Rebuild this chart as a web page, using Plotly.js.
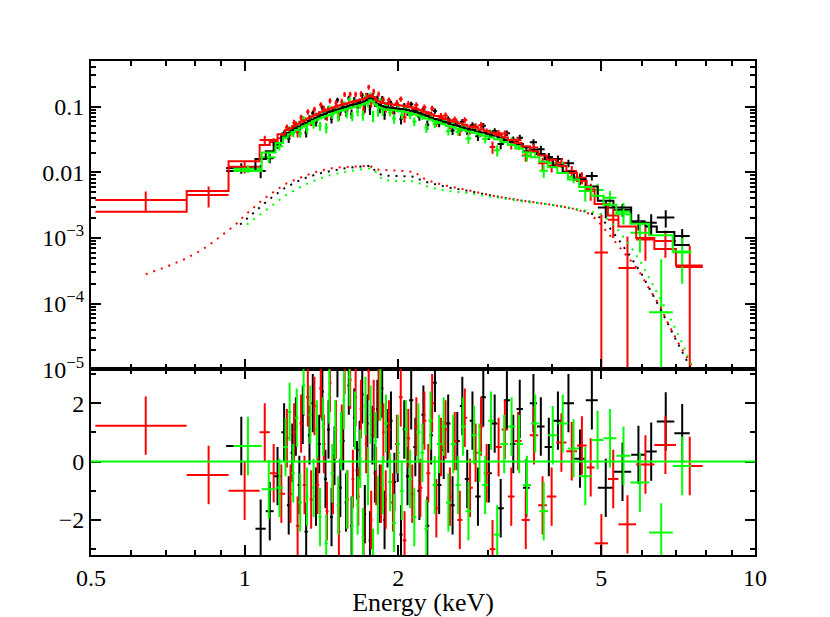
<!DOCTYPE html>
<html><head><meta charset="utf-8">
<script src="https://cdn.plot.ly/plotly-3.0.1.min.js"></script>
<style>html,body{margin:0;padding:0;background:#fff}#chart{width:830px;height:617px}</style>
</head><body><div id="chart"></div>
<script>
// ---------- BLACK dataset (bin edges in keV, counts/s/keV) ----------
const blackEdges = [0.92,1.05,1.10,1.14,1.18,1.21,1.23,1.25,1.27,1.29,1.31,1.33,1.35,1.37,1.39,1.41,1.43,1.45,1.47,1.49,1.51,1.53,1.55,1.57,1.59,1.61,1.63,1.65,1.67,1.69,1.71,1.73,1.75,1.77,1.79,1.81,1.83,1.85,1.87,1.89,1.92,1.95,1.98,2.01,2.04,2.07,2.10,2.14,2.18,2.22,2.26,2.30,2.34,2.38,2.43,2.48,2.53,2.58,2.64,2.70,2.76,2.83,2.90,2.97,3.05,3.13,3.22,3.31,3.41,3.51,3.62,3.74,3.87,4.02,4.20,4.42,4.66,4.92,5.28,5.72,6.10,6.42,6.95,7.45];
const blackModel = [0.0105,0.016,0.021,0.028,0.035,
  0.040,0.043,0.047,0.050,0.054,0.057,0.061,0.064,0.068,0.071,0.075,0.078,0.082,0.085,0.088,0.091,0.094,0.097,0.100,0.103,0.106,0.108,0.111,0.114,0.117,0.121,0.127,0.134,0.130,0.120,0.111,0.106,0.102,0.099,
  0.097,0.096,0.095,0.093,0.092,0.091,0.089,
  0.087,0.084,0.080,0.076,0.072,0.068,0.065,
  0.062,0.059,0.056,0.053,
  0.051,0.048,0.046,
  0.044,0.042,0.040,
  0.038,0.036,0.034,0.031,0.029,0.027,0.024,0.022,0.019,
  0.0158,0.0128,0.0102,0.0078,0.0061,0.0037,0.0029,0.0017,0.0015,0.00123,0.00078];
const blackFlux = [0.0116,0.0105,0.0164,0.0263,0.0392,
  0.0328,0.0445,0.0538,0.0452,0.0644,0.0406,0.0676,0.0794,0.0582,0.0761,0.0966,0.0724,0.0928,0.0656,0.0901,0.126,0.0838,0.105,0.0832,0.135,0.078,0.127,0.107,0.119,0.149,0.095,0.147,0.091,0.144,0.114,0.135,0.092,0.133,0.075,
  0.106,0.112,0.087,0.0963,0.0644,0.103,0.0837,
  0.109,0.089,0.0704,0.0906,0.053,0.0753,0.086,
  0.056,0.0618,0.0647,0.0435,
  0.0553,0.059,0.0427,
  0.052,0.0355,0.0514,
  0.036,0.0421,0.0269,0.0395,0.0313,0.0336,0.0209,0.0286,0.0225,
  0.0171,0.0159,0.0138,0.0080,0.0088,0.0029,0.0027,0.0018,0.0017,0.00205,0.00107];
const blackErr = [0.0021,0.0024,0.0027,0.0034,0.0042,
  0.0048,0.0052,0.0056,0.006,0.0065,0.0068,0.0073,0.0077,0.0082,0.0085,0.009,0.0094,0.0098,0.0102,0.0106,0.0109,0.0113,0.0116,0.012,0.0124,0.0127,0.013,0.0133,0.0137,0.014,0.0145,0.0152,0.0161,0.0156,0.0144,0.0133,0.0127,0.0122,0.0119,
  0.0116,0.0115,0.0114,0.0112,0.011,0.0109,0.0107,
  0.0104,0.0101,0.0096,0.0091,0.0086,0.0082,0.0078,
  0.0074,0.0071,0.0067,0.0064,
  0.0061,0.0058,0.0055,
  0.0057,0.0055,0.0052,
  0.0049,0.0047,0.0044,0.004,0.0038,0.0037,0.0034,0.0033,0.0029,
  0.0026,0.0022,0.0018,0.0016,0.0013,0.0009,0.0006,0.0005,0.0006,0.0006,0.0003];
const blackResid = [0.53,-2.3,-1.7,-0.5,1.0,
  -1.5,0.3,1.2,-0.8,1.6,-2.4,0.9,2.0,-1.2,0.6,2.4,-0.6,1.1,-1.9,0.2,3.2,-0.9,0.7,-1.4,2.6,-2.2,1.5,-0.3,0.4,2.3,-1.8,1.3,-2.7,0.9,-0.4,1.8,-1.1,2.5,-2.0,
  0.8,1.4,-0.7,0.3,-2.5,1.1,-0.5,
  2.1,0.5,-1.0,1.6,-2.2,0.9,2.7,
  -0.8,0.4,1.3,-1.5,
  0.7,1.9,-0.6,
  1.4,-1.2,2.2,
  -0.4,1.3,-1.6,2.1,0.6,1.8,-0.9,2.0,1.2,
  0.5,1.4,2.0,0.1,2.1,-0.9,-0.35,0.23,0.34,1.37,0.97];

// ---------- RED dataset ----------
const redEdges = [0.51,0.77,0.93,1.07,1.12,1.16,1.20,1.22,1.24,1.26,1.28,1.30,1.32,1.34,1.36,1.38,1.40,1.42,1.44,1.46,1.48,1.50,1.52,1.54,1.56,1.58,1.60,1.62,1.64,1.66,1.68,1.70,1.72,1.74,1.76,1.78,1.80,1.82,1.84,1.86,1.88,1.90,1.935,1.97,2.005,2.04,2.075,2.11,2.15,2.19,2.23,2.27,2.31,2.35,2.40,2.45,2.50,2.55,2.61,2.67,2.73,2.80,2.87,2.94,3.02,3.10,3.19,3.28,3.38,3.49,3.62,3.76,3.91,4.08,4.27,4.48,4.68,4.85,5.15,5.40,5.85,6.35,7.00,7.90];
const redModel = [0.0025,0.0052,0.0148,0.026,0.031,0.038,
  0.044,0.047,0.051,0.055,0.059,0.062,0.066,0.070,0.074,0.078,0.082,0.086,0.090,0.093,0.097,0.100,0.104,0.107,0.110,0.113,0.116,0.119,0.122,0.125,0.128,0.132,0.137,0.145,0.150,0.140,0.128,0.121,0.117,0.114,0.112,
  0.110,0.108,0.106,0.104,0.102,0.100,
  0.097,0.093,0.089,0.084,0.080,0.076,
  0.072,0.068,0.065,0.062,
  0.059,0.056,0.053,
  0.050,0.048,0.045,
  0.043,0.040,0.037,0.034,0.031,0.028,0.025,0.021,0.018,
  0.0155,0.0125,0.0098,0.0074,0.0055,0.0033,0.0022,0.0015,0.0010,0.00068,0.00038];
const redFlux = [0.0038,0.0045,0.0122,0.031,0.029,0.033,
  0.0482,0.0408,0.0571,0.0405,0.0682,0.056,0.0834,0.0591,0.0909,0.0705,0.1066,0.0922,0.0716,0.123,0.0877,0.113,0.074,0.119,0.154,0.0954,0.155,0.110,0.154,0.107,0.156,0.0908,0.147,0.199,0.114,0.170,0.120,0.156,0.102,0.128,0.0945,
  0.125,0.0899,0.114,0.131,0.069,0.110,
  0.0842,0.106,0.0794,0.0981,0.0762,0.0942,
  0.0582,0.0721,0.0736,0.0531,
  0.064,0.0426,0.0625,
  0.0442,0.0499,0.052,
  0.0408,0.0244,0.0394,0.0389,0.0262,0.0307,0.018,0.0238,0.0137,
  0.0125,0.014,0.0105,0.0083,0.0052,0.0006,0.0019,0.00035,0.00095,0.0009,0.00036];
const redErr = [0.0013,0.0016,0.0026,0.005,0.004,0.0045,
  0.0053,0.0056,0.0061,0.0066,0.0071,0.0074,0.0079,0.0084,0.0089,0.0094,0.0098,0.0103,0.0108,0.0112,0.0116,0.012,0.0125,0.0128,0.0132,0.0136,0.0139,0.0143,0.0146,0.015,0.0154,0.0158,0.0164,0.0174,0.018,0.0168,0.0154,0.0145,0.014,0.0137,0.0134,
  0.0132,0.013,0.0127,0.0125,0.0122,0.012,
  0.0116,0.0112,0.0107,0.0101,0.0096,0.0091,
  0.0086,0.0082,0.0078,0.0074,
  0.0071,0.0067,0.0064,
  0.0065,0.0062,0.0059,
  0.0056,0.0052,0.0048,0.0044,0.004,0.0039,0.0035,0.0031,0.0029,
  0.0026,0.0023,0.002,0.0017,0.0015,0.0017,0.0009,0.0007,0.0005,0.0004,0.0004];
const redResid = [1.23,-0.46,-1.0,1.0,-0.4,-1.1,
  0.8,-1.1,1.0,-2.2,1.3,-0.8,2.2,-1.3,1.9,-0.8,2.5,0.6,-1.7,2.7,-0.8,1.1,-2.4,0.95,3.3,-1.3,2.8,-0.6,2.2,-1.2,1.8,-2.6,0.6,3.1,-2.0,1.8,-0.5,2.4,-1.1,1.0,-1.3,
  1.1,-1.4,0.6,2.2,-2.7,0.8,
  -1.1,1.2,-0.9,1.4,-0.4,2.0,
  -1.6,0.5,1.1,-1.2,
  0.7,-2.0,1.5,
  -0.9,0.3,1.2,
  -0.4,-3.0,0.5,1.1,-1.2,0.7,-2.0,0.9,-1.5,
  -1.2,0.65,0.35,0.55,-0.2,-2.8,-0.6,-2.15,-0.1,0.57,-0.15];

// ---------- GREEN dataset ----------
const greenEdges = [0.95,1.08,1.15,1.19,1.215,1.235,1.255,1.275,1.295,1.315,1.335,1.355,1.375,1.395,1.415,1.435,1.455,1.475,1.495,1.515,1.535,1.555,1.575,1.595,1.615,1.635,1.655,1.675,1.695,1.715,1.735,1.755,1.775,1.795,1.815,1.835,1.855,1.875,1.91,1.945,1.98,2.015,2.05,2.09,2.13,2.17,2.21,2.25,2.29,2.335,2.38,2.43,2.48,2.535,2.59,2.65,2.71,2.78,2.85,2.92,3.00,3.08,3.17,3.28,3.39,3.51,3.64,3.78,3.93,4.10,4.30,4.52,4.78,5.05,5.35,5.70,6.20,6.90,7.50];
const greenModel = [0.0105,0.020,0.028,0.034,
  0.038,0.041,0.044,0.047,0.050,0.053,0.056,0.060,0.063,0.066,0.069,0.072,0.075,0.078,0.081,0.084,0.087,0.089,0.092,0.095,0.097,0.100,0.102,0.105,0.108,0.112,0.118,0.125,0.120,0.108,0.100,0.096,0.093,
  0.091,0.089,0.088,0.086,0.085,
  0.083,0.080,0.077,0.073,0.069,0.066,
  0.063,0.060,0.057,0.054,
  0.051,0.049,0.046,
  0.044,0.042,0.040,
  0.038,0.036,0.034,0.032,0.029,0.026,0.023,0.020,0.017,
  0.0145,0.012,0.0098,0.0078,0.0060,0.0044,0.0032,0.0023,0.00165,0.0011,0.00062];
const greenFlux = [0.0113,0.017,0.025,0.036,
  0.0458,0.039,0.0519,0.0391,0.0656,0.0454,0.0668,0.0535,0.0713,0.051,0.0789,0.0478,0.0957,0.0743,0.0917,0.0689,0.0943,0.111,0.0776,0.128,0.0714,0.117,0.0836,0.106,0.0743,0.138,0.111,0.149,0.0725,0.117,0.082,0.124,0.0841,
  0.105,0.0815,0.0658,0.0922,0.0748,
  0.094,0.0742,0.0594,0.0818,0.0715,0.0478,
  0.0736,0.0542,0.0611,0.0618,
  0.0424,0.0525,0.0416,
  0.0509,0.0327,0.0447,
  0.0395,0.0323,0.0402,0.0216,0.0313,0.0304,0.0249,0.0176,0.0203,
  0.0106,0.0139,0.0124,0.0086,0.0052,0.0054,0.0041,0.0025,0.0012,0.000074,0.0006];
const greenErr = [0.0015,0.003,0.0035,0.004,
  0.0046,0.0049,0.0053,0.0056,0.006,0.0064,0.0067,0.0072,0.0076,0.0079,0.0083,0.0086,0.009,0.0094,0.0097,0.0101,0.0104,0.0107,0.011,0.0114,0.0116,0.012,0.0122,0.0126,0.013,0.0134,0.0142,0.015,0.0144,0.013,0.012,0.0115,0.0112,
  0.0109,0.0107,0.0106,0.0103,0.0102,
  0.01,0.0096,0.0092,0.0088,0.0083,0.0079,
  0.0076,0.0072,0.0068,0.0065,
  0.0061,0.0059,0.0055,
  0.0057,0.0055,0.0052,
  0.0049,0.0047,0.0044,0.0042,0.0038,0.0036,0.0032,0.003,0.0026,
  0.0023,0.0021,0.002,0.0018,0.0016,0.0013,0.0011,0.0009,0.0006,0.0004,0.0004];
const greenResid = [0.53,-0.95,-0.9,0.5,
  1.7,-0.4,1.5,-1.4,2.6,-1.2,1.6,-0.9,1.1,-1.9,1.2,-2.8,2.3,-0.4,1.1,-1.5,0.7,2.1,-1.3,2.9,-2.2,1.4,-1.5,0.1,-2.6,1.9,-0.5,1.6,-3.3,0.7,-1.5,2.4,-0.8,
  1.3,-0.7,-2.1,0.6,-1.0,
  1.1,-0.6,-1.9,1.0,0.3,-2.3,
  1.4,-0.8,0.6,1.2,
  -1.4,0.6,-0.8,
  1.2,-1.7,0.9,
  0.3,-0.8,1.4,-2.5,0.6,1.2,0.6,-0.8,1.3,
  -1.7,0.9,1.3,0.45,-0.5,0.74,0.8,0.2,-0.72,-2.43,-0.15];

// ---------- model component (dotted) ----------
const redCompE = [0.64,0.70,0.76,0.82,0.87,0.92,0.96,1.00,1.04,1.08,1.12,1.16,1.20,1.25,1.30,1.36,1.42,1.48,1.55,1.62,1.70,1.76,1.80,1.86,1.94,2.02,2.10,2.16,2.20,2.26,2.35,2.50,2.75,3.10,3.50,4.00,4.40,4.70,4.90,5.10,5.30,5.60,5.90,6.20,6.50,6.80,7.10,7.40,7.60];
const redCompY = [2.8e-4,3.6e-4,4.7e-4,6.4e-4,8.8e-4,1.25e-3,1.6e-3,2.2e-3,2.9e-3,3.7e-3,4.6e-3,5.5e-3,6.6e-3,7.6e-3,8.6e-3,9.8e-3,0.0108,0.0115,0.0120,0.0123,0.0125,0.0126,0.0111,0.0108,0.0107,0.0106,0.0104,0.0101,0.0088,0.0078,0.0070,0.0062,0.0053,0.0043,0.0037,0.0032,0.0028,0.0024,0.0019,0.0013,0.00092,0.00055,0.00033,0.00017,9.5e-5,4.5e-5,2.4e-5,1.4e-5,1.0e-5];
const blackCompE = [0.98,1.02,1.06,1.10,1.15,1.20,1.26,1.32,1.40,1.48,1.56,1.64,1.72,1.77,1.80,1.86,1.94,2.02,2.10,2.16,2.20,2.26,2.35,2.50,2.75,3.10,3.50,4.00,4.40,4.70,5.00,5.20,5.40,5.70,6.00,6.30,6.60,6.90,7.20,7.50];
const blackCompY = [0.0016,0.0021,0.0028,0.0035,0.0046,0.0058,0.0071,0.0083,0.0096,0.0106,0.0114,0.0120,0.0124,0.0126,0.0106,0.0090,0.0088,0.0088,0.0087,0.0085,0.0078,0.0072,0.0066,0.0059,0.0052,0.0043,0.0037,0.0032,0.0028,0.0025,0.0020,0.0014,0.00095,0.00052,0.00028,0.00014,7e-5,3.5e-5,1.8e-5,1.0e-5];
const greenCompE = [1.01,1.05,1.10,1.15,1.20,1.26,1.32,1.40,1.48,1.56,1.64,1.72,1.77,1.81,1.86,1.94,2.02,2.10,2.16,2.20,2.26,2.35,2.50,2.75,3.10,3.50,4.00,4.40,4.70,5.00,5.20,5.40,5.70,6.00,6.30,6.60,6.90,7.20,7.50];
const greenCompY = [0.0016,0.0020,0.0026,0.0034,0.0044,0.0055,0.0066,0.0080,0.0092,0.0101,0.0108,0.0113,0.0115,0.0100,0.0078,0.0074,0.0074,0.0074,0.0073,0.0068,0.0062,0.0057,0.0052,0.0048,0.0042,0.0036,0.0032,0.0028,0.0026,0.0023,0.0018,0.0013,0.00075,0.00040,0.00020,0.0001,5e-5,2.5e-5,1.2e-5];

// ---------- ticks ----------
const xTickVals = [0.5,1,2,5,10];
const xTickText = ['0.5','1','2','5','10'];
const xMinorVals = [0.6,0.7,0.8,0.9,3,4,6,7,8,9];
const yTickVals = [1e-5,1e-4,1e-3,0.01,0.1];
const yTickText = ['10<sup>\u22125</sup>','10<sup>\u22124</sup>','10<sup>\u22123</sup>','0.01','0.1'];
const rTickVals = [-2,0,2];
const rTickText = ['\u22122','0','2'];
const rMinorVals = [-3,-1,1,3];

const BLACK = '#000000', RED = '#ff0000', GREEN = '#00ff00';

const yMinorVals = [];
for (let k = -5; k <= -1; k++) for (let m = 2; m <= 9; m++) yMinorVals.push(m * Math.pow(10, k));

function bins(edges) {
  const lo = edges.slice(0, -1), hi = edges.slice(1);
  const c = lo.map((l, i) => (l + hi[i]) / 2);
  return {lo, hi, c};
}
function xErr(b, color) {
  return {type:'data', symmetric:false, array:b.c.map((v,i)=>b.hi[i]-v), arrayminus:b.c.map((v,i)=>v-b.lo[i]), width:0, thickness:2, color:color};
}
function dataTrace(edges, flux, err, color) {
  const b = bins(edges);
  return {type:'scatter', mode:'markers', x:b.c, y:flux, xaxis:'x', yaxis:'y',
    marker:{size:1, color:color}, error_x:xErr(b, color),
    error_y:{type:'data', array:err, width:0, thickness:2, color:color}, hoverinfo:'skip'};
}
function modelTrace(edges, model, color) {
  return {type:'scatter', mode:'lines', x:edges, y:model.concat([model[model.length-1]]),
    xaxis:'x', yaxis:'y', line:{shape:'hv', color:color, width:2}, hoverinfo:'skip'};
}
function compTrace(e, y, color) {
  return {type:'scatter', mode:'lines', x:e, y:y, xaxis:'x', yaxis:'y',
    line:{color:color, width:2, dash:'2px,6px'}, hoverinfo:'skip'};
}
function residTrace(edges, resid, color) {
  const b = bins(edges);
  return {type:'scatter', mode:'markers', x:b.c, y:resid, xaxis:'x2', yaxis:'y2',
    marker:{size:1, color:color}, error_x:xErr(b, color),
    error_y:{type:'constant', value:1, width:0, thickness:2, color:color}, hoverinfo:'skip'};
}

const traces = [
  dataTrace(blackEdges, blackFlux, blackErr, BLACK),
  dataTrace(redEdges, redFlux, redErr, RED),
  dataTrace(greenEdges, greenFlux, greenErr, GREEN),
  modelTrace(blackEdges, blackModel, BLACK),
  modelTrace(redEdges, redModel, RED),
  modelTrace(greenEdges, greenModel, GREEN),
  compTrace(blackCompE, blackCompY, BLACK),
  compTrace(redCompE, redCompY, RED),
  compTrace(greenCompE, greenCompY, GREEN),
  residTrace(blackEdges, blackResid, BLACK),
  residTrace(redEdges, redResid, RED),
  residTrace(greenEdges, greenResid, GREEN)
];

const SPLIT = 0.376;
const common = {showline:true, linewidth:2, linecolor:'#000', mirror:'allticks', ticks:'inside',
  ticklen:10, tickwidth:2, tickcolor:'#000', showgrid:false, zeroline:false};
const xMinor = {tickmode:'array', tickvals:xMinorVals, ticks:'inside', ticklen:5, tickwidth:2, tickcolor:'#000', showgrid:false};

const layout = {
  width:830, height:617,
  margin:{l:91, r:75, t:61, b:62},
  paper_bgcolor:'#fff', plot_bgcolor:'#fff',
  showlegend:false, hovermode:false,
  font:{family:'Liberation Serif, Times New Roman, serif', size:25, color:'#000'},
  xaxis:Object.assign({}, common, {type:'log', range:[Math.log10(0.5), 1], domain:[0,1], anchor:'y',
    tickmode:'array', tickvals:xTickVals, showticklabels:false, minor:xMinor}),
  xaxis2:Object.assign({}, common, {type:'log', range:[Math.log10(0.5), 1], domain:[0,1], anchor:'y2', matches:'x',
    tickmode:'array', tickvals:xTickVals, ticktext:xTickText, showticklabels:true, minor:xMinor,
    tickfont:{size:24},
    title:{text:'Energy (keV)', font:{size:26}, standoff:10}}),
  yaxis:Object.assign({}, common, {type:'log', range:[-5, -0.304], domain:[SPLIT,1], anchor:'x',
    tickmode:'array', tickvals:yTickVals, ticktext:yTickText, tickfont:{size:24},
    minor:{tickmode:'array', tickvals:yMinorVals, ticks:'inside', ticklen:5, tickwidth:2, tickcolor:'#000', showgrid:false}}),
  yaxis2:Object.assign({}, common, {range:[-3.2, 3.16], domain:[0,SPLIT], anchor:'x2',
    tickmode:'array', tickvals:rTickVals, ticktext:rTickText, tickfont:{size:24},
    minor:{tickmode:'array', tickvals:rMinorVals, ticks:'inside', ticklen:5, tickwidth:2, tickcolor:'#000', showgrid:false}}),
  shapes:[{type:'line', xref:'paper', x0:0, x1:1, yref:'y2', y0:0, y1:0, layer:'above', line:{color:GREEN, width:2}}]
};

Plotly.newPlot('chart', traces, layout, {displayModeBar:false, staticPlot:true});
</script>
</body></html>
